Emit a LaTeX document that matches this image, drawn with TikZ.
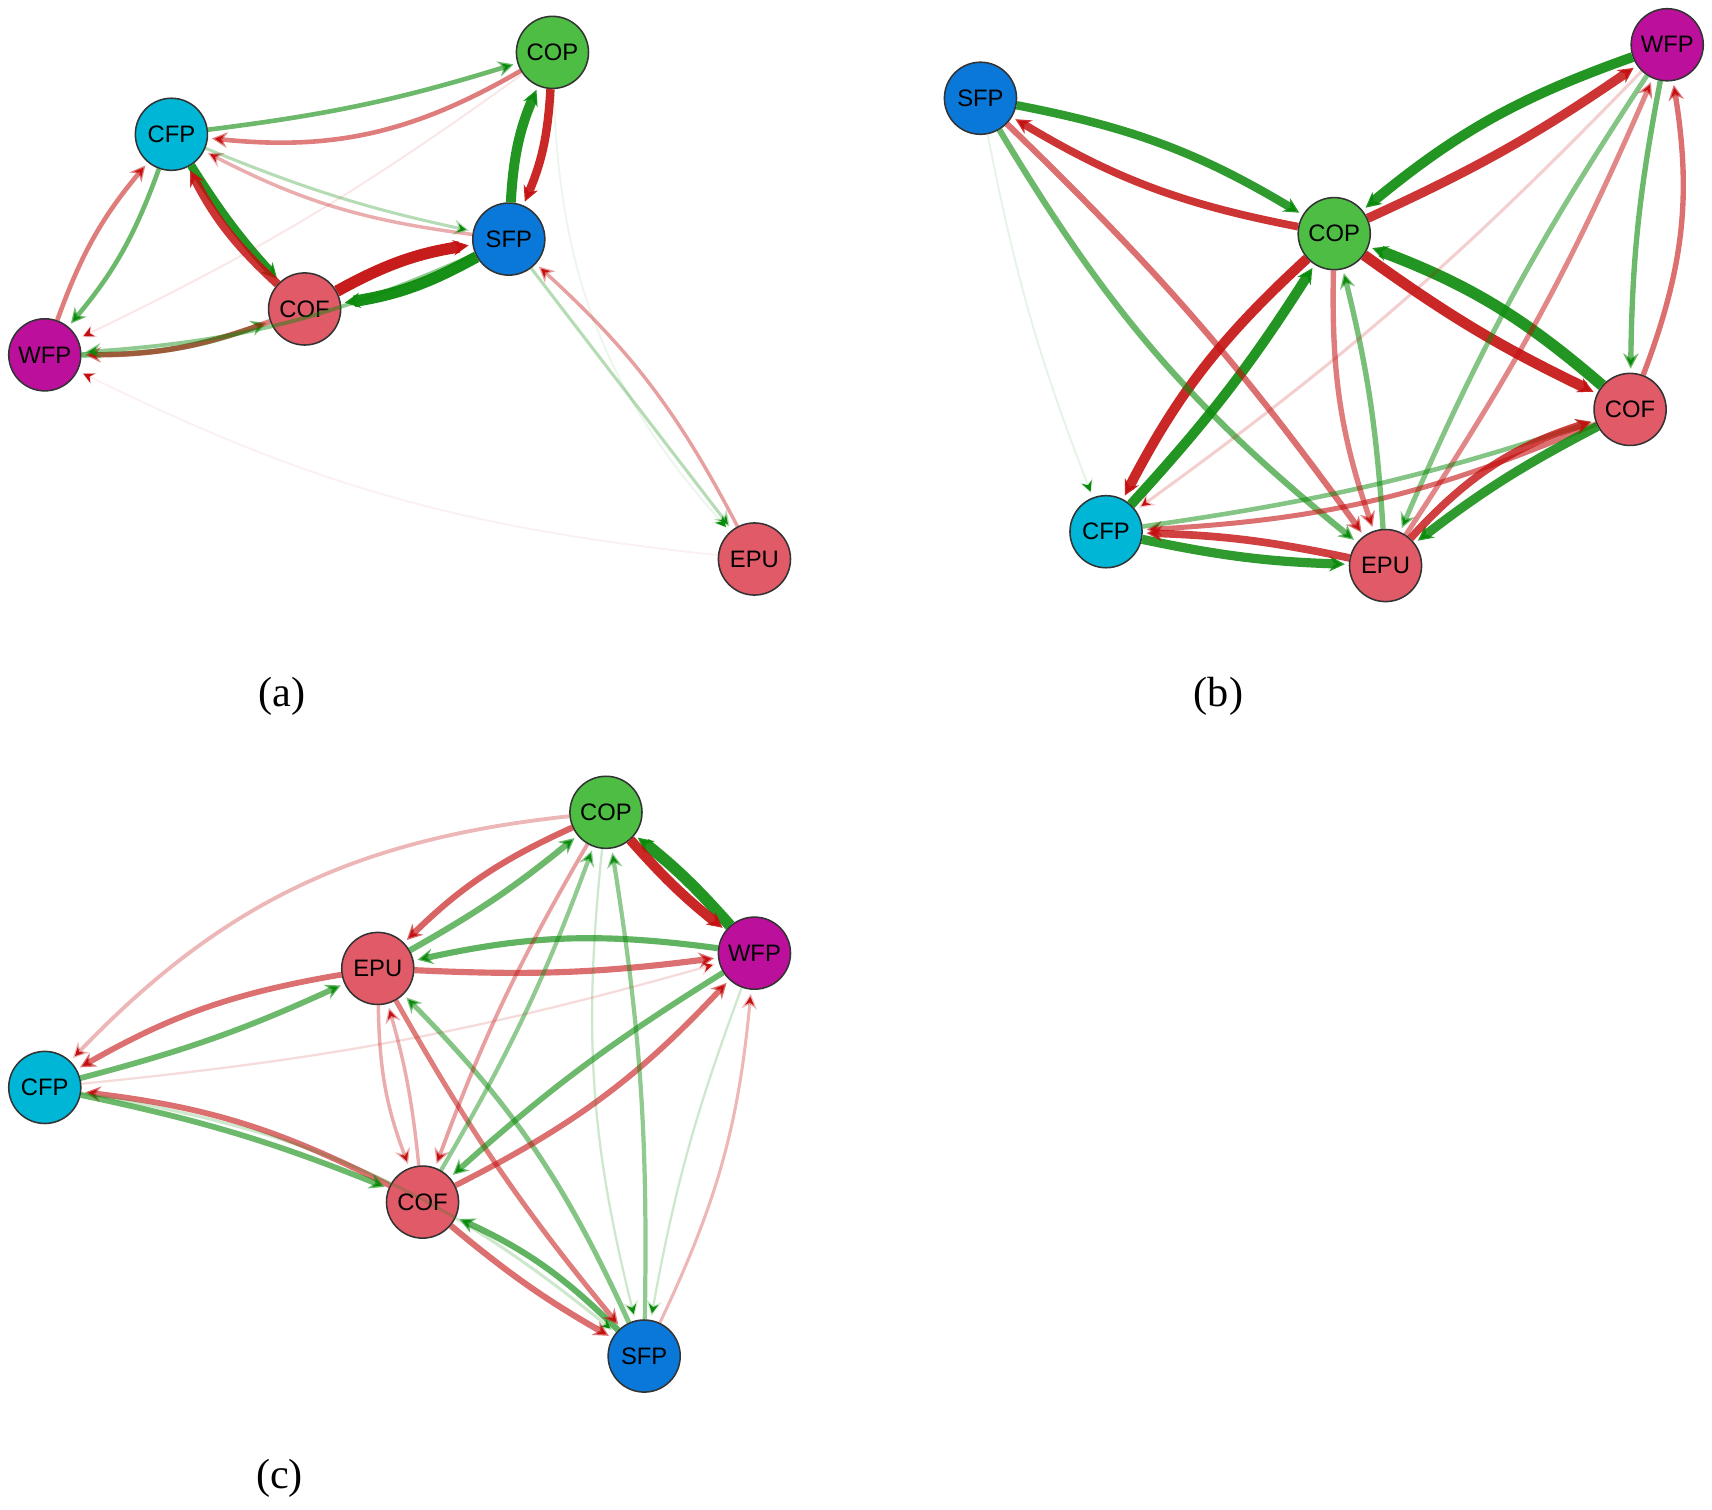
\documentclass[tikz,border=0pt]{standalone}
\usepackage{fontspec}
\setmainfont{Liberation Serif}
\newfontfamily\nodefont{Liberation Sans}
\usetikzlibrary{arrows.meta}
\definecolor{ngreen}{HTML}{4DBD44}
\definecolor{ncyan}{HTML}{00B6D6}
\definecolor{nblue}{HTML}{0A78D8}
\definecolor{nred}{HTML}{E05A67}
\definecolor{nmag}{HTML}{BC0F9C}
\definecolor{eg}{HTML}{0A8A0A}
\definecolor{er}{HTML}{C41010}
\tikzset{
  nd/.style={circle,draw=black!80,line width=0.4pt,minimum size=0.66cm,inner sep=0pt,font=\nodefont\fontsize{6.2}{7}\selectfont},
  lab/.style={font=\fontsize{11}{13}\selectfont},
  ed/.style={-{Stealth[length=4pt,width=4pt]},shorten >=1pt}
}
\newcommand{\eg}[5]{\draw[ed,draw=eg,line width=#3,draw opacity=#4,bend left=#5] (#1) to (#2);}
\newcommand{\er}[5]{\draw[ed,draw=er,line width=#3,draw opacity=#4,bend left=#5] (#1) to (#2);}
\begin{document}
\begin{tikzpicture}[x=0.01cm,y=-0.01cm]
\useasboundingbox (0,0) rectangle (1568,1383);
% panel a
\node[nd,fill=ngreen] (aCOP) at (506,48) {COP};
\node[nd,fill=ncyan] (aCFP) at (157,123) {CFP};
\node[nd,fill=nblue] (aSFP) at (466,219) {SFP};
\node[nd,fill=nred] (aCOF) at (279,283) {COF};
\node[nd,fill=nmag] (aWFP) at (41,325) {WFP};
\node[nd,fill=nred] (aEPU) at (691,512) {EPU};
\begin{scope}[on background layer/.style={}]
\er{aCOP}{aCFP}{1.2pt}{0.55}{18}
\eg{aCFP}{aCOP}{1.2pt}{0.6}{-5}
\er{aCOP}{aSFP}{2.2pt}{0.9}{10}
\eg{aSFP}{aCOP}{2.6pt}{0.9}{10}
\eg{aSFP}{aCOF}{3pt}{0.95}{10}
\er{aCOF}{aSFP}{3pt}{0.95}{10}
\eg{aCFP}{aCOF}{2.2pt}{0.9}{-5}
\er{aCOF}{aCFP}{2.2pt}{0.85}{10}
\eg{aCFP}{aWFP}{1.2pt}{0.6}{10}
\er{aWFP}{aCFP}{1.2pt}{0.55}{10}
\eg{aWFP}{aCOF}{1.4pt}{0.6}{-10}
\er{aCOF}{aWFP}{1.4pt}{0.55}{10}
\eg{aSFP}{aWFP}{1pt}{0.45}{10}
\er{aSFP}{aCFP}{0.9pt}{0.35}{10}
\eg{aCFP}{aSFP}{0.8pt}{0.3}{-5}
\er{aEPU}{aSFP}{0.9pt}{0.4}{-10}
\eg{aSFP}{aEPU}{0.8pt}{0.3}{0}
\eg{aCOP}{aEPU}{0.5pt}{0.08}{-20}
\er{aEPU}{aWFP}{0.5pt}{0.06}{10}
\er{aCOP}{aWFP}{0.5pt}{0.1}{5}
\end{scope}
% panel b
\node[nd,fill=nblue] (bSFP) at (898,90) {SFP};
\node[nd,fill=nmag] (bWFP) at (1527,41) {WFP};
\node[nd,fill=ngreen] (bCOP) at (1222,214) {COP};
\node[nd,fill=nred] (bCOF) at (1493,375) {COF};
\node[nd,fill=ncyan] (bCFP) at (1013,487) {CFP};
\node[nd,fill=nred] (bEPU) at (1269,518) {EPU};
\er{bCOP}{bSFP}{2pt}{0.85}{10}
\eg{bSFP}{bCOP}{2.2pt}{0.85}{10}
\eg{bWFP}{bCOP}{2.6pt}{0.9}{-10}
\er{bCOP}{bWFP}{2.4pt}{0.85}{-5}
\er{bCOP}{bCOF}{2.8pt}{0.9}{-5}
\eg{bCOF}{bCOP}{3pt}{0.9}{-10}
\er{bCOP}{bCFP}{2.6pt}{0.9}{-10}
\eg{bCFP}{bCOP}{2.6pt}{0.9}{-5}
\eg{bSFP}{bEPU}{1.6pt}{0.6}{-10}
\er{bSFP}{bEPU}{1.6pt}{0.6}{5}
\eg{bWFP}{bCOF}{1.4pt}{0.6}{-5}
\er{bCOF}{bWFP}{1.4pt}{0.6}{-15}
\eg{bWFP}{bEPU}{1.3pt}{0.5}{-5}
\er{bEPU}{bWFP}{1.3pt}{0.5}{-5}
\er{bCOF}{bCFP}{1.3pt}{0.6}{10}
\eg{bCFP}{bCOF}{1.2pt}{0.5}{-5}
\eg{bCOF}{bEPU}{2.4pt}{0.85}{-5}
\er{bEPU}{bCOF}{2pt}{0.8}{15}
\eg{bCFP}{bEPU}{2.4pt}{0.85}{-5}
\er{bEPU}{bCFP}{2pt}{0.8}{-5}
\er{bCOP}{bEPU}{1.4pt}{0.55}{-10}
\eg{bEPU}{bCOP}{1.4pt}{0.55}{-5}
\er{bWFP}{bCFP}{0.8pt}{0.2}{5}
\eg{bSFP}{bCFP}{0.5pt}{0.1}{-5}
% panel c
\node[nd,fill=ngreen] (cCOP) at (555,744) {COP};
\node[nd,fill=nmag] (cWFP) at (691,873) {WFP};
\node[nd,fill=nred] (cEPU) at (346,887) {EPU};
\node[nd,fill=ncyan] (cCFP) at (41,996) {CFP};
\node[nd,fill=nred] (cCOF) at (387,1101) {COF};
\node[nd,fill=nblue] (cSFP) at (590,1242) {SFP};
\eg{cWFP}{cCOP}{3pt}{0.9}{-5}
\er{cCOP}{cWFP}{2.6pt}{0.9}{-5}
\er{cCOP}{cEPU}{1.6pt}{0.65}{-10}
\eg{cEPU}{cCOP}{1.6pt}{0.6}{-5}
\eg{cWFP}{cEPU}{1.6pt}{0.65}{-10}
\er{cEPU}{cWFP}{1.6pt}{0.6}{-5}
\er{cCOP}{cCFP}{1pt}{0.3}{-20}
\er{cEPU}{cCFP}{1.5pt}{0.6}{-10}
\eg{cCFP}{cEPU}{1.5pt}{0.6}{-5}
\er{cCOF}{cCFP}{1.5pt}{0.6}{-10}
\eg{cCFP}{cCOF}{1.5pt}{0.6}{5}
\eg{cCFP}{cSFP}{0.8pt}{0.2}{15}
\er{cCOF}{cSFP}{1.6pt}{0.6}{-5}
\eg{cSFP}{cCOF}{1.6pt}{0.65}{-10}
\er{cEPU}{cSFP}{1.3pt}{0.55}{-5}
\eg{cSFP}{cEPU}{1.3pt}{0.5}{-10}
\er{cCOF}{cWFP}{1.5pt}{0.6}{-10}
\eg{cWFP}{cCOF}{1.5pt}{0.6}{-5}
\er{cEPU}{cCOF}{0.9pt}{0.35}{-10}
\er{cCOF}{cEPU}{0.9pt}{0.35}{-5}
\er{cCOP}{cCOF}{1pt}{0.4}{-5}
\eg{cCOF}{cCOP}{1.1pt}{0.45}{-5}
\eg{cSFP}{cCOP}{1.1pt}{0.45}{-5}
\er{cSFP}{cWFP}{0.8pt}{0.3}{-10}
\eg{cCOP}{cSFP}{0.6pt}{0.2}{-10}
\er{cCFP}{cWFP}{0.6pt}{0.15}{-5}
\eg{cWFP}{cSFP}{0.6pt}{0.2}{-5}
% labels
\node[lab] (la) at (258,638) {(a)};
\node[lab] (lb) at (1116,638) {(b)};
\node[lab] (lc) at (256,1354) {(c)};
\end{tikzpicture}
\end{document}
